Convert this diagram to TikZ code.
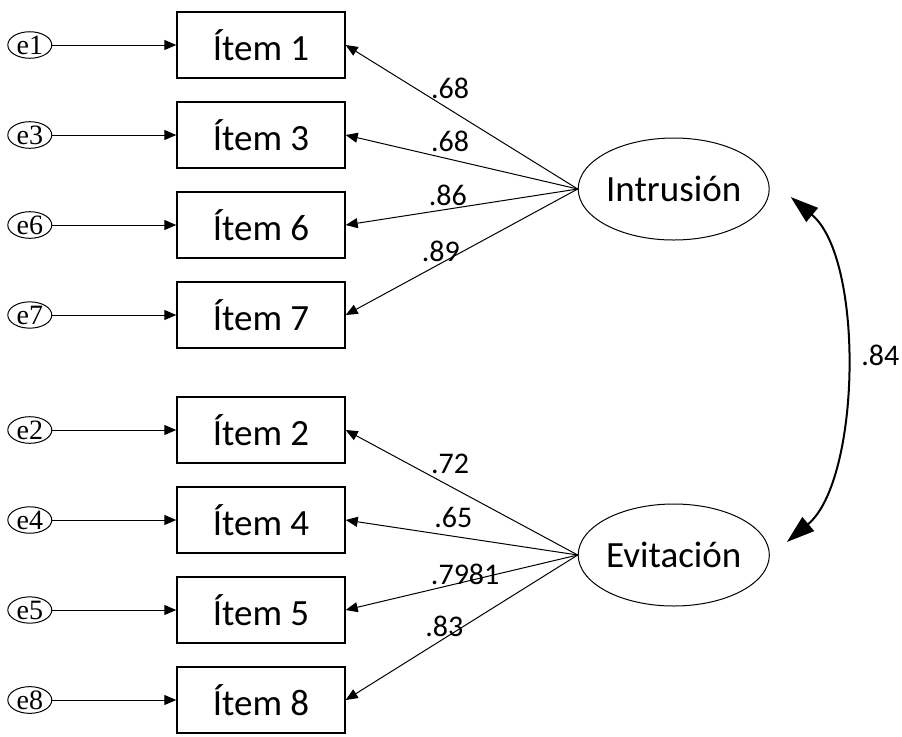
\documentclass[tikz,border=0pt]{standalone}
\usepackage{fontspec}
\setmainfont{Carlito}
\newfontfamily\errfont{Liberation Serif}
\usetikzlibrary{positioning,shapes.geometric,arrows.meta}

\begin{document}
\begin{tikzpicture}[
        x=0.5pt, y=-0.5pt,
        node distance=11.3pt and 62pt, % gaps between items, error to item
        item/.style={draw, line width=0.7pt, minimum width=84pt, minimum height=33pt, font=\fontsize{18.5}{22}\selectfont},
        latent/.style={draw, ellipse, line width=0.5pt, inner sep=0pt, minimum width=94pt, minimum height=51pt, font=\fontsize{18.5}{22}\selectfont},
        errnode/.style={draw, ellipse, line width=0.5pt, inner sep=0pt, minimum width=22pt, minimum height=12pt, font=\errfont\fontsize{14}{14}\selectfont},
        coef/.style={font=\fontsize{15}{16}\selectfont, inner sep=0pt},
        load/.style={line width=0.5pt, -{Triangle[length=6pt,width=5pt]}},
        cov/.style={line width=1pt, {Triangle[length=14pt,width=9pt]}-{Triangle[length=14pt,width=9pt]}}
    ]
    \useasboundingbox (0,0) rectangle (902,736);

    % Items
    \node[item] (i1) at (261,45) {Ítem 1};
    \node[item, below=of i1] (i3) {Ítem 3};
    \node[item, below=of i3] (i6) {Ítem 6};
    \node[item, below=of i6] (i7) {Ítem 7};
    \node[item, below=23.8pt of i7] (i2) {Ítem 2};
    \node[item, below=of i2] (i4) {Ítem 4};
    \node[item, below=of i4] (i5) {Ítem 5};
    \node[item, below=of i5] (i8) {Ítem 8};

    % Errors
    \node[errnode, left=of i1] (e1) {e1};
    \node[errnode, left=of i3] (e3) {e3};
    \node[errnode, left=of i6] (e6) {e6};
    \node[errnode, left=of i7] (e7) {e7};
    \node[errnode, left=of i2] (e2) {e2};
    \node[errnode, left=of i4] (e4) {e4};
    \node[errnode, left=of i5] (e5) {e5};
    \node[errnode, left=of i8] (e8) {e8};

    % Factors
    \node[latent, right=116pt of i3, yshift=-27pt] (intr) {Intrusión};
    \node[latent, right=116pt of i4, yshift=-17.5pt] (evit) {Evitación};

    % Edges
    \draw[load] (e1) -- (i1);
    \draw[load] (e3) -- (i3);
    \draw[load] (e6) -- (i6);
    \draw[load] (e7) -- (i7);
    \draw[load] (e2) -- (i2);
    \draw[load] (e4) -- (i4);
    \draw[load] (e5) -- (i5);
    \draw[load] (e8) -- (i8);

    \draw[load] (intr.west) -- node[coef, pos=0.55, yshift=10.5pt] {.68} (i1.east);
    \draw[load] (intr.west) -- node[coef, pos=0.55, yshift=9pt] {.68} (i3.east);
    \draw[load] (intr.west) -- node[coef, pos=0.56, yshift=7pt] {.86} (i6.east);
    \draw[load] (intr.west) -- node[coef, pos=0.59, yshift=6pt] {.89} (i7.east);

    \draw[load] (evit.west) -- node[coef, pos=0.55, yshift=11pt] {.72} (i2.east);
    \draw[load] (evit.west) -- node[coef, pos=0.536, yshift=9.3pt] {.65} (i4.east);
    \draw[load] (evit.west) -- node[coef, pos=0.485, yshift=3.5pt] {.7981} (i5.east);
    \draw[load] (evit.west) -- node[coef, pos=0.575, yshift=6pt] {.83} (i8.east);

    \draw[cov] ([shift={(21,8)}]intr.east) .. controls +(74,62) and +(74,-62) .. node[coef, pos=0.5, right=8pt, yshift=7pt] {.84} ([shift={(17,-13)}]evit.east);

\end{tikzpicture}
\end{document}
